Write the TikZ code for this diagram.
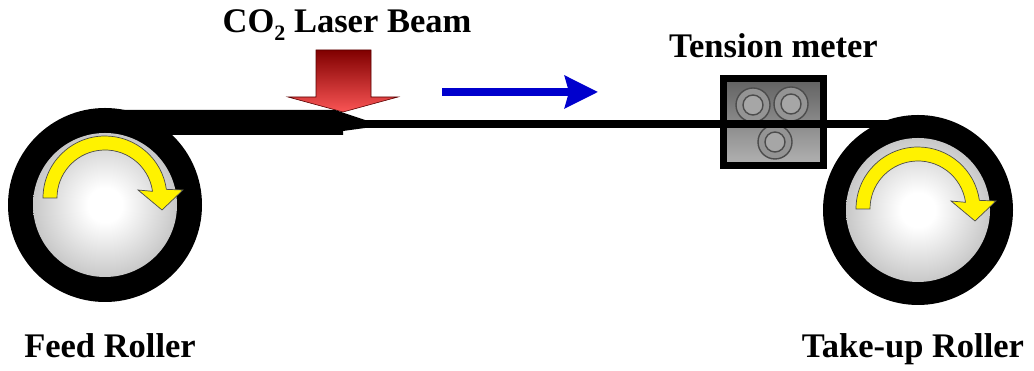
\documentclass[tikz,border=0pt]{standalone}
\usepackage{fontspec}
\setmainfont{Liberation Serif}
\usetikzlibrary{arrows.meta}
\definecolor{beamdark}{RGB}{128,0,0}
\definecolor{beamlight}{RGB}{250,85,85}
\definecolor{flowblue}{RGB}{0,0,205}
\colorlet{turnyellow}{yellow}
\pgfdeclareradialshading{rollerball}{\pgfpoint{0bp}{0bp}}{color(0bp)=(white); color(6bp)=(white); color(22bp)=(black!18); color(50bp)=(black!52)}
\tikzset{
  label/.style={font=\bfseries\fontsize{34.5}{40}\selectfont, inner sep=0pt, anchor=base},
  turnarrow/.style={fill=turnyellow, draw=black!70, line width=0.7pt},
  wheel/.style={draw=black!70, line width=1.4pt, fill=black!42},
  turn/.pic={
    \draw[turnarrow] (180:62pt) arc[start angle=180, end angle=8, radius=62pt]
      -- (78pt,8pt) -- (57pt,-12pt) -- (33pt,8pt) -- (8:48pt)
      arc[start angle=8, end angle=180, radius=48pt] -- cycle;
  }
}

\begin{document}
\begin{tikzpicture}[x=1pt, y=1pt]
\useasboundingbox (0,0) rectangle (1034,371);
\coordinate (feed) at (105,166);
\coordinate (takeup) at (918,161);

% thin fibre after the beam
\draw[line width=8pt] (360,247) -- (918,247);

% laser beam block arrow
\shade[top color=beamdark, bottom color=beamlight, draw=red!35!black, line width=0.6pt]
  (316,321) -- (371,321) -- (371,274) -- (398,274) -- (343,259) -- (288,274) -- (316,274) -- cycle;
% thick preform coming off the feed roller, necked down under the beam
\fill (105,261) -- (335,261) -- (365,251) -- (365,243) -- (343,240) -- (343,236) -- (105,236) -- cycle;

% rollers
\fill (feed) circle[radius=97pt];
\shade[shading=rollerball] (feed) circle[radius=72pt];
\fill (takeup) circle[radius=95pt];
\shade[shading=rollerball] (takeup) circle[radius=72pt];
\pic at (105,173) {turn};
\pic at (918,162) {turn};

% tension meter
\shade[top color=black!62, bottom color=black!30] (723.5,205.5) rectangle (823.5,292.5);
\draw[line width=7pt] (723.5,205.5) rectangle (823.5,292.5);
\foreach \cx/\cy in {753/266, 791/267, 775/229} {
  \draw[wheel] (\cx,\cy) circle[radius=17pt];
  \draw[wheel, fill=black!35] (\cx,\cy) circle[radius=10pt];
}
\draw[line width=8pt] (700,247) -- (880,247);

% drawing direction
\coordinate (dirA) at (442,279);
\coordinate (dirB) at (598,279);
\draw[flowblue, line width=8pt, -{Stealth[length=33pt, width=32pt, inset=4pt]}] (dirA) -- (dirB);

\node[label] (beam) at (347,338) {CO\raisebox{-8pt}{\fontsize{22}{24}\selectfont 2} Laser Beam};
\node[label] (meter) at (773.5,313) {Tension meter};
\node[label] (feedlabel) at (110,13) {Feed Roller};
\node[label] (takeuplabel) at (913,13) {Take-up Roller};
\end{tikzpicture}
\end{document}
